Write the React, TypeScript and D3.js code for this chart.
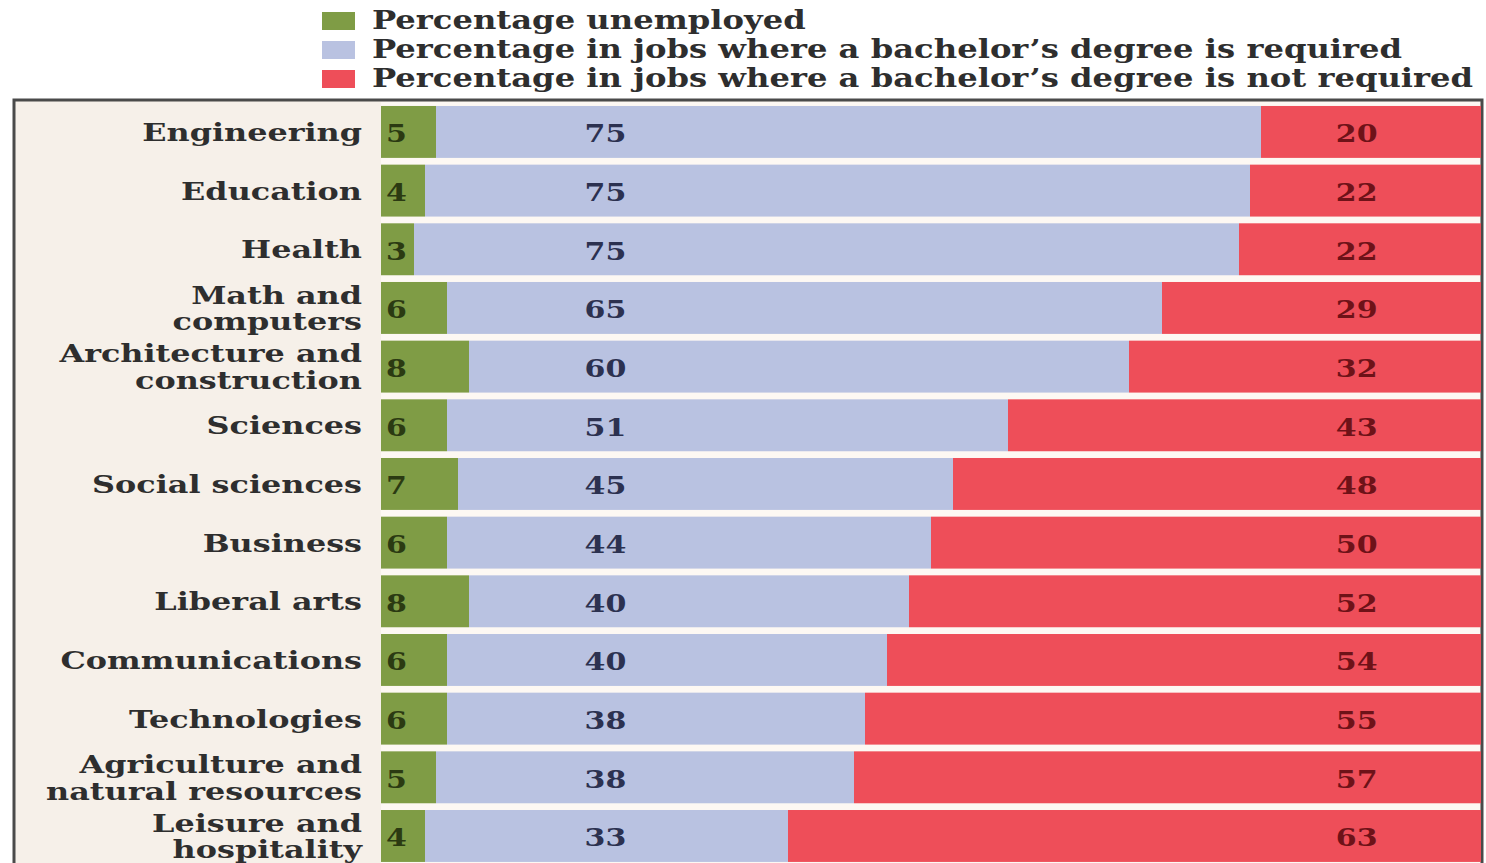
import React from "react";
import * as d3 from "d3";

const categories: string[][] = [
  ["Engineering"],
  ["Education"],
  ["Health"],
  ["Math and", "computers"],
  ["Architecture and", "construction"],
  ["Sciences"],
  ["Social sciences"],
  ["Business"],
  ["Liberal arts"],
  ["Communications"],
  ["Technologies"],
  ["Agriculture and", "natural resources"],
  ["Leisure and", "hospitality"],
];
const unemployed = [5, 4, 3, 6, 8, 6, 7, 6, 8, 6, 6, 5, 4];
const degreeRequired = [75, 75, 75, 65, 60, 51, 45, 44, 40, 40, 38, 38, 33];
const degreeNotRequired = [20, 22, 22, 29, 32, 43, 48, 50, 52, 54, 55, 57, 63];
const legendLabels = [
  "Percentage unemployed",
  "Percentage in jobs where a bachelor\u2019s degree is required",
  "Percentage in jobs where a bachelor\u2019s degree is not required",
];
const colors = ["#7f9c45", "#b9c2e1", "#ee4e59"];
const numColors = ["#2b3a12", "#2c3150", "#6e1218"];

const W = 1486;
const H = 863;
const FONT = "'DejaVu Serif', serif";
const SX_LEG = 1.24;
const SX_LAB = 1.3;
const SX_NUM = 1.25;

export default function App() {
  const keys = categories.map((c) => c.join(" "));
  const x = d3.scaleLinear().domain([0, 100]).range([381, 1481]);
  const y = d3
    .scaleBand<string>()
    .domain(keys)
    .range([102.6, 102.6 + 13 * 58.67])
    .paddingInner(0.115)
    .paddingOuter(0.0575);
  const bw = y.bandwidth();
  const rows = keys.map((k, i) => ({
    key: k,
    lines: categories[i],
    u: unemployed[i],
    r: degreeRequired[i],
    n: degreeNotRequired[i],
  }));
  const blueCol = x(20.4);
  const redCol = x(88.7);

  return (
    <svg width={W} height={H} style={{ position: "absolute", left: 0, top: 0 }}>
      <rect x={0} y={0} width={W} height={H} fill="#ffffff" />
      {/* legend */}
      {legendLabels.map((l, i) => (
        <g key={l}>
          <rect x={322} y={12 + i * 29} width={33} height={18} fill={colors[i]} />
          <text
            transform={`translate(372,${29 + i * 29}) scale(${SX_LEG},1)`}
            fontFamily={FONT}
            fontWeight="bold"
            fontSize={26}
            fill="#2e2e2e"
          >
            {l}
          </text>
        </g>
      ))}
      {/* frame */}
      <rect x={14} y={100} width={1468} height={800} fill="#f6f0e9" stroke="#4a4a4a" strokeWidth={3} />
      <rect x={381} y={102} width={1099} height={780} fill="#fdf8f3" />
      {rows.map((d) => {
        const y0 = y(d.key)!;
        const cy = y0 + bw / 2;
        const redEnd = Math.max(x(100), x(d.u + d.r + d.n));
        return (
          <g key={d.key}>
            <rect x={x(0)} y={y0} width={x(d.u) - x(0)} height={bw} fill={colors[0]} />
            <rect x={x(d.u)} y={y0} width={x(d.u + d.r) - x(d.u)} height={bw} fill={colors[1]} />
            <rect
              x={x(d.u + d.r)}
              y={y0}
              width={Math.min(redEnd, x(100)) - x(d.u + d.r)}
              height={bw}
              fill={colors[2]}
            />
            <text
              transform={`translate(${x(0) + 5},${cy + 10.5}) scale(${SX_NUM},1)`}
              fontFamily={FONT}
              fontWeight="bold"
              fontSize={24}
              fill={numColors[0]}
            >
              {d.u}
            </text>
            <text
              transform={`translate(${blueCol},${cy + 10.5}) scale(${SX_NUM},1)`}
              textAnchor="middle"
              fontFamily={FONT}
              fontWeight="bold"
              fontSize={24}
              fill={numColors[1]}
            >
              {d.r}
            </text>
            <text
              transform={`translate(${redCol},${cy + 10.5}) scale(${SX_NUM},1)`}
              textAnchor="middle"
              fontFamily={FONT}
              fontWeight="bold"
              fontSize={24}
              fill={numColors[2]}
            >
              {d.n}
            </text>
            {d.lines.map((ln, j) => (
              <text
                key={ln}
                transform={`translate(362,${cy + 9 + (j - (d.lines.length - 1) / 2) * 26.5}) scale(${SX_LAB},1)`}
                textAnchor="end"
                fontFamily={FONT}
                fontWeight="bold"
                fontSize={24.5}
                fill="#2e2e2e"
              >
                {ln}
              </text>
            ))}
          </g>
        );
      })}
    </svg>
  );
}
